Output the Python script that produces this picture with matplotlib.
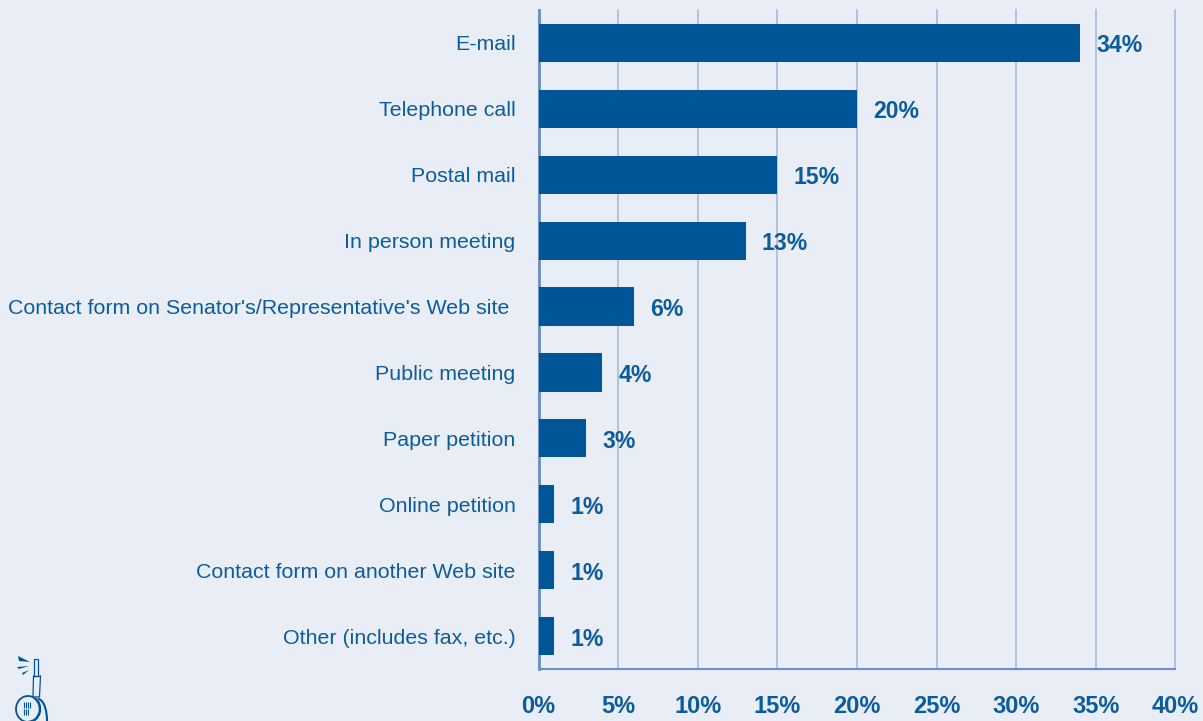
import matplotlib
matplotlib.use('Agg')
import matplotlib.pyplot as plt
from matplotlib.patches import Arc

categories = ["E-mail", "Telephone call", "Postal mail", "In person meeting",
              "Contact form on Senator's/Representative's Web site ", "Public meeting",
              "Paper petition", "Online petition", "Contact form on another Web site",
              "Other (includes fax, etc.)"]
values = [34, 20, 15, 13, 6, 4, 3, 1, 1, 1]
xticks = [0, 5, 10, 15, 20, 25, 30, 35, 40]

BLUE = '#005596'
TEXT = '#0c5c9c'
BG = '#e9eef6'
GRID = '#a3b5d6'
AXIS = '#6b8fc0'

plt.rcParams['font.family'] = ['Liberation Sans', 'DejaVu Sans']

W, H = 1203, 721
fig = plt.figure(figsize=(W / 100, H / 100), dpi=100, facecolor=BG)
ax = fig.add_axes([538.5 / W, 1 - 669 / H, (1175.5 - 538.5) / W, (669 - 10) / H], facecolor=BG)

ypos = list(range(len(categories)))
ax.barh(ypos, values, height=0.58, color=BLUE, zorder=3)
ax.set_xlim(0, 40)
ax.set_ylim(len(categories) - 0.5, -0.5)
ax.set_xticks(xticks)
ax.set_xticklabels([f"{x}%" for x in xticks], fontsize=17, fontweight='bold', color=TEXT)
ax.set_yticks(ypos)
ax.set_yticklabels(categories, fontsize=15.4, color=TEXT)
ax.tick_params(axis='y', length=0, pad=16.5)
ax.tick_params(axis='x', length=0, pad=18.5)
ax.xaxis.grid(True, color=GRID, lw=1.1, zorder=1, clip_on=False)
for s in ['top', 'right']:
    ax.spines[s].set_visible(False)
ax.spines['left'].set_color(AXIS)
ax.spines['left'].set_linewidth(2)
ax.spines['bottom'].set_color(AXIS)
ax.spines['bottom'].set_linewidth(1.5)

for y, v in zip(ypos, values):
    ax.annotate(f"{v}%", (v, y), xytext=(16, -3), textcoords='offset pixels', va='center', ha='left',
                fontsize=16.6, fontweight='bold', color=TEXT, zorder=4)

# little phone logo in the bottom left corner, in pixel coords
logo = fig.add_axes([0, 0, 1, 1], facecolor='none')
logo.set_xlim(0, W)
logo.set_ylim(H, 0)
logo.axis('off')
logo.plot([34, 34, 38, 38, 34], [676, 659, 659, 676, 676], color=BLUE, lw=0.9)
logo.plot([33.5, 33, 39.5, 40.5], [676, 697, 697, 676], color=BLUE, lw=0.9)
logo.plot([33.5, 40], [676, 676], color=BLUE, lw=0.9)
logo.fill([18, 30, 19], [656, 662, 661], color=BLUE, lw=0)
logo.fill([17, 29, 19], [667, 666, 669], color=BLUE, lw=0)
logo.fill([22, 29, 23], [673, 670, 675], color=BLUE, lw=0)
logo.add_patch(Arc((28, 709), 24, 26, theta1=90, theta2=300, color=BLUE, lw=1.3))
logo.add_patch(Arc((28, 709), 24, 26, theta1=300, theta2=90, color=BLUE, lw=1.8))
logo.add_patch(Arc((38, 721), 18, 44, theta1=270, theta2=360, color=BLUE, lw=1.5))
logo.plot([24, 26, 28, 30, 24, 26, 28], [705, 705, 705, 705, 712, 712, 712], ls='none',
          marker='|', ms=4, color=BLUE, mew=0.8)

fig.savefig('out.png', dpi=100, facecolor=BG)
